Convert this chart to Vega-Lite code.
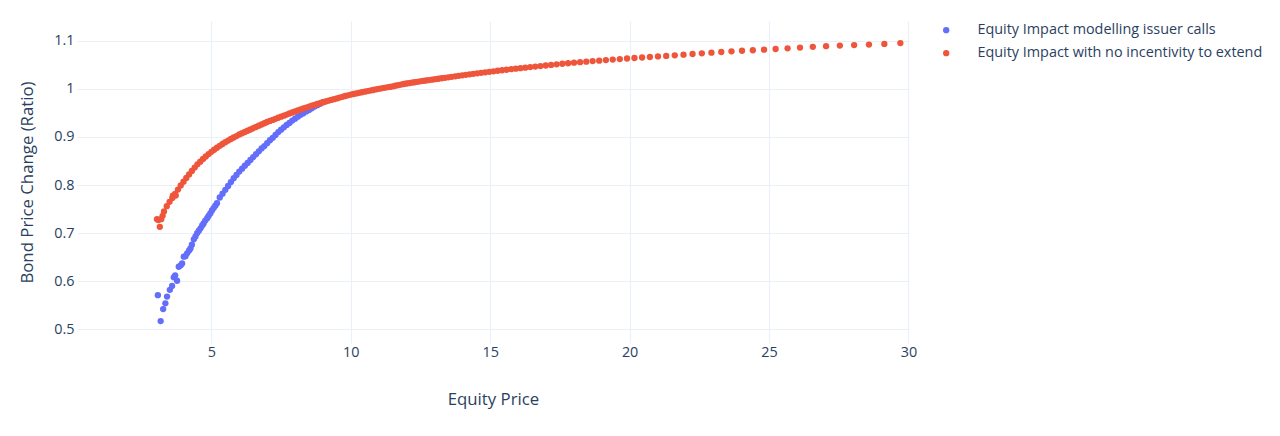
{
  "$schema": "https://vega.github.io/schema/vega-lite/v6.json",
  "width": 832,
  "height": 322,
  "autosize": {"type": "none"},
  "padding": {"left": 77, "top": 21, "right": 371, "bottom": 93},
  "background": "white",
  "config": {
    "view": {"stroke": null},
    "font": "Open Sans",
    "axis": {
      "grid": true,
      "gridColor": "#EBF0F8",
      "gridWidth": 1.2,
      "domain": false,
      "ticks": false,
      "tickSize": 0,
      "labelColor": "#2a3f5f",
      "labelFontSize": 14.4,
      "labelFont": "Open Sans",
      "labelFlush": false,
      "labelOverlap": false,
      "titleColor": "#2a3f5f",
      "titleFontSize": 16.8,
      "titleFont": "Open Sans",
      "titleFontWeight": "normal"
    },
    "legend": {
      "labelColor": "#2a3f5f",
      "labelFontSize": 14.4,
      "labelFont": "Open Sans",
      "labelLimit": 0
    }
  },
  "encoding": {
    "x": {
      "field": "x",
      "type": "quantitative",
      "scale": {"domain": [0.18, 30.02], "nice": false, "zero": false},
      "axis": {"title": "Equity Price", "values": [5, 10, 15, 20, 25, 30], "labelPadding": 2, "titlePadding": 33}
    },
    "y": {
      "field": "y",
      "type": "quantitative",
      "scale": {"domain": [0.4715, 1.141], "nice": false, "zero": false},
      "axis": {"title": "Bond Price Change (Ratio)", "values": [0.5, 0.6, 0.7, 0.8, 0.9, 1, 1.1], "format": "~g", "labelPadding": 3, "titlePadding": 17}
    }
  },
  "layer": [
    {
      "data": {"values": [
        {"x": 3.08, "y": 0.571}, {"x": 3.18, "y": 0.517}, {"x": 3.27, "y": 0.542}, {"x": 3.35, "y": 0.554},
        {"x": 3.41, "y": 0.568}, {"x": 3.51, "y": 0.582}, {"x": 3.59, "y": 0.590}, {"x": 3.65, "y": 0.608},
        {"x": 3.7, "y": 0.612}, {"x": 3.77, "y": 0.601}, {"x": 3.83, "y": 0.630}, {"x": 3.9, "y": 0.633},
        {"x": 3.95, "y": 0.637}, {"x": 4.01, "y": 0.651}, {"x": 4.07, "y": 0.652}, {"x": 4.13, "y": 0.658},
        {"x": 4.2, "y": 0.664}, {"x": 4.25, "y": 0.668}, {"x": 4.3, "y": 0.676}, {"x": 4.37, "y": 0.687},
        {"x": 4.43, "y": 0.693}, {"x": 4.49, "y": 0.700}, {"x": 4.55, "y": 0.705}, {"x": 4.61, "y": 0.710},
        {"x": 4.67, "y": 0.716}, {"x": 4.72, "y": 0.720}, {"x": 4.78, "y": 0.726}, {"x": 4.85, "y": 0.731},
        {"x": 4.9, "y": 0.736}, {"x": 4.96, "y": 0.741}, {"x": 5.02, "y": 0.747}, {"x": 5.08, "y": 0.752},
        {"x": 5.14, "y": 0.757}, {"x": 5.2, "y": 0.762}, {"x": 5.3, "y": 0.774}, {"x": 5.4, "y": 0.782},
        {"x": 5.5, "y": 0.790}, {"x": 5.6, "y": 0.798}, {"x": 5.7, "y": 0.806}, {"x": 5.8, "y": 0.814},
        {"x": 5.9, "y": 0.821}, {"x": 6.0, "y": 0.828}, {"x": 6.1, "y": 0.834}, {"x": 6.2, "y": 0.840},
        {"x": 6.3, "y": 0.846}, {"x": 6.4, "y": 0.852}, {"x": 6.5, "y": 0.858}, {"x": 6.6, "y": 0.864},
        {"x": 6.7, "y": 0.870}, {"x": 6.8, "y": 0.876}, {"x": 6.9, "y": 0.881}, {"x": 7.0, "y": 0.887},
        {"x": 7.1, "y": 0.893}, {"x": 7.2, "y": 0.898}, {"x": 7.3, "y": 0.904}, {"x": 7.4, "y": 0.910},
        {"x": 7.5, "y": 0.915}, {"x": 7.6, "y": 0.920}, {"x": 7.7, "y": 0.925}, {"x": 7.8, "y": 0.929},
        {"x": 7.9, "y": 0.934}, {"x": 8.0, "y": 0.938}, {"x": 8.1, "y": 0.942}, {"x": 8.2, "y": 0.946},
        {"x": 8.3, "y": 0.949}, {"x": 8.4, "y": 0.953}, {"x": 8.5, "y": 0.956}, {"x": 8.6, "y": 0.9595},
        {"x": 8.7, "y": 0.963}, {"x": 8.8, "y": 0.966}, {"x": 8.9, "y": 0.969}, {"x": 9.0, "y": 0.972}
      ]},
      "mark": {"type": "circle", "size": 40, "opacity": 1},
      "encoding": {
        "color": {
          "datum": "Equity Impact modelling issuer calls",
          "type": "nominal",
          "scale": {
            "domain": ["Equity Impact modelling issuer calls", "Equity Impact with no incentivity to extend"],
            "range": ["#636efa", "#EF553B"]
          },
          "legend": {
            "title": null,
            "orient": "none",
            "legendX": 862,
            "legendY": 2,
            "padding": 0,
            "symbolType": "circle",
            "symbolSize": 40,
            "symbolStrokeWidth": 0,
            "labelOffset": 24,
            "rowPadding": 8
          }
        }
      }
    },
    {
      "data": {"values": [
        {"x": 3.05, "y": 0.729}, {"x": 3.1, "y": 0.727}, {"x": 3.15, "y": 0.713}, {"x": 3.2, "y": 0.729},
        {"x": 3.25, "y": 0.736}, {"x": 3.3, "y": 0.745}, {"x": 3.4, "y": 0.756}, {"x": 3.5, "y": 0.765},
        {"x": 3.6, "y": 0.773}, {"x": 3.62, "y": 0.778}, {"x": 3.7, "y": 0.7815}, {"x": 3.72, "y": 0.778},
        {"x": 3.8, "y": 0.7905}, {"x": 3.9, "y": 0.799}, {"x": 4.0, "y": 0.807}, {"x": 4.1, "y": 0.8146},
        {"x": 4.2, "y": 0.822}, {"x": 4.3, "y": 0.8292}, {"x": 4.4, "y": 0.8362}, {"x": 4.5, "y": 0.843},
        {"x": 4.6, "y": 0.8485}, {"x": 4.7, "y": 0.854}, {"x": 4.8, "y": 0.8593}, {"x": 4.9, "y": 0.8643},
        {"x": 5.0, "y": 0.869}, {"x": 5.1, "y": 0.8733}, {"x": 5.2, "y": 0.8774}, {"x": 5.3, "y": 0.8814},
        {"x": 5.4, "y": 0.8852}, {"x": 5.5, "y": 0.889}, {"x": 5.6, "y": 0.8924}, {"x": 5.7, "y": 0.8956},
        {"x": 5.8, "y": 0.8988}, {"x": 5.9, "y": 0.9018}, {"x": 6.0, "y": 0.905}, {"x": 6.1, "y": 0.9076},
        {"x": 6.2, "y": 0.9102}, {"x": 6.3, "y": 0.9128}, {"x": 6.4, "y": 0.9154}, {"x": 6.5, "y": 0.918},
        {"x": 6.6, "y": 0.9206}, {"x": 6.7, "y": 0.9232}, {"x": 6.8, "y": 0.9258}, {"x": 6.9, "y": 0.9284},
        {"x": 7.0, "y": 0.931}, {"x": 7.1, "y": 0.9332}, {"x": 7.2, "y": 0.9354}, {"x": 7.3, "y": 0.9376},
        {"x": 7.4, "y": 0.9398}, {"x": 7.5, "y": 0.942}, {"x": 7.6, "y": 0.9442}, {"x": 7.7, "y": 0.9464},
        {"x": 7.8, "y": 0.9486}, {"x": 7.9, "y": 0.9508}, {"x": 8.0, "y": 0.953}, {"x": 8.1, "y": 0.955},
        {"x": 8.2, "y": 0.957}, {"x": 8.3, "y": 0.959}, {"x": 8.4, "y": 0.961}, {"x": 8.5, "y": 0.963},
        {"x": 8.6, "y": 0.9648}, {"x": 8.7, "y": 0.9666}, {"x": 8.8, "y": 0.9684}, {"x": 8.9, "y": 0.9702},
        {"x": 9.0, "y": 0.972}, {"x": 9.1, "y": 0.9737}, {"x": 9.2, "y": 0.9753}, {"x": 9.3, "y": 0.9769},
        {"x": 9.4, "y": 0.9785}, {"x": 9.5, "y": 0.9801}, {"x": 9.6, "y": 0.9818}, {"x": 9.7, "y": 0.9834},
        {"x": 9.8, "y": 0.985}, {"x": 9.9, "y": 0.9865}, {"x": 10.0, "y": 0.988}, {"x": 10.1, "y": 0.9892},
        {"x": 10.2, "y": 0.9904}, {"x": 10.3, "y": 0.9916}, {"x": 10.4, "y": 0.9928}, {"x": 10.5, "y": 0.994},
        {"x": 10.6, "y": 0.9952}, {"x": 10.7, "y": 0.9964}, {"x": 10.8, "y": 0.9976}, {"x": 10.9, "y": 0.9988},
        {"x": 11.0, "y": 1.0}, {"x": 11.1, "y": 1.001}, {"x": 11.2, "y": 1.002}, {"x": 11.3, "y": 1.003},
        {"x": 11.4, "y": 1.004}, {"x": 11.5, "y": 1.005}, {"x": 11.6, "y": 1.0063}, {"x": 11.7, "y": 1.0076},
        {"x": 11.8, "y": 1.0088}, {"x": 11.9, "y": 1.01}, {"x": 11.993, "y": 1.011}, {"x": 12.089, "y": 1.0118},
        {"x": 12.187, "y": 1.0127}, {"x": 12.286, "y": 1.0136}, {"x": 12.387, "y": 1.0146}, {"x": 12.489, "y": 1.0155},
        {"x": 12.593, "y": 1.0164}, {"x": 12.7, "y": 1.0173}, {"x": 12.807, "y": 1.0182}, {"x": 12.917, "y": 1.0191},
        {"x": 13.029, "y": 1.02}, {"x": 13.142, "y": 1.021}, {"x": 13.258, "y": 1.022}, {"x": 13.375, "y": 1.0229},
        {"x": 13.495, "y": 1.0239}, {"x": 13.617, "y": 1.0249}, {"x": 13.741, "y": 1.0259}, {"x": 13.867, "y": 1.027},
        {"x": 13.996, "y": 1.028}, {"x": 14.127, "y": 1.029}, {"x": 14.261, "y": 1.0301}, {"x": 14.397, "y": 1.0311},
        {"x": 14.535, "y": 1.0322}, {"x": 14.677, "y": 1.0332}, {"x": 14.821, "y": 1.0343}, {"x": 14.968, "y": 1.0354},
        {"x": 15.118, "y": 1.0364}, {"x": 15.271, "y": 1.0375}, {"x": 15.427, "y": 1.0386}, {"x": 15.587, "y": 1.0397},
        {"x": 15.75, "y": 1.0408}, {"x": 15.916, "y": 1.0419}, {"x": 16.086, "y": 1.043}, {"x": 16.259, "y": 1.044},
        {"x": 16.436, "y": 1.0451}, {"x": 16.617, "y": 1.0462}, {"x": 16.802, "y": 1.0473}, {"x": 16.992, "y": 1.0485},
        {"x": 17.185, "y": 1.0497}, {"x": 17.383, "y": 1.0509}, {"x": 17.586, "y": 1.0521}, {"x": 17.793, "y": 1.0532},
        {"x": 18.006, "y": 1.0543}, {"x": 18.223, "y": 1.0554}, {"x": 18.446, "y": 1.0565}, {"x": 18.674, "y": 1.0576},
        {"x": 18.909, "y": 1.0586}, {"x": 19.149, "y": 1.0597}, {"x": 19.395, "y": 1.0608}, {"x": 19.648, "y": 1.0619},
        {"x": 19.907, "y": 1.063}, {"x": 20.173, "y": 1.0641}, {"x": 20.447, "y": 1.0651}, {"x": 20.727, "y": 1.0662},
        {"x": 21.016, "y": 1.0673}, {"x": 21.313, "y": 1.0684}, {"x": 21.619, "y": 1.0697}, {"x": 21.933, "y": 1.071},
        {"x": 22.257, "y": 1.0724}, {"x": 22.59, "y": 1.0738}, {"x": 22.934, "y": 1.0752}, {"x": 23.288, "y": 1.0766},
        {"x": 23.653, "y": 1.0779}, {"x": 24.03, "y": 1.0791}, {"x": 24.419, "y": 1.0802}, {"x": 24.821, "y": 1.0814},
        {"x": 25.236, "y": 1.0828}, {"x": 25.665, "y": 1.0842}, {"x": 26.11, "y": 1.0857}, {"x": 26.57, "y": 1.0873},
        {"x": 27.046, "y": 1.0886}, {"x": 27.54, "y": 1.0898}, {"x": 28.052, "y": 1.091}, {"x": 28.584, "y": 1.092},
        {"x": 29.136, "y": 1.0933}, {"x": 29.71, "y": 1.095}
      ]},
      "mark": {"type": "circle", "size": 40, "opacity": 1},
      "encoding": {
        "color": {"datum": "Equity Impact with no incentivity to extend", "type": "nominal"}
      }
    }
  ]
}
